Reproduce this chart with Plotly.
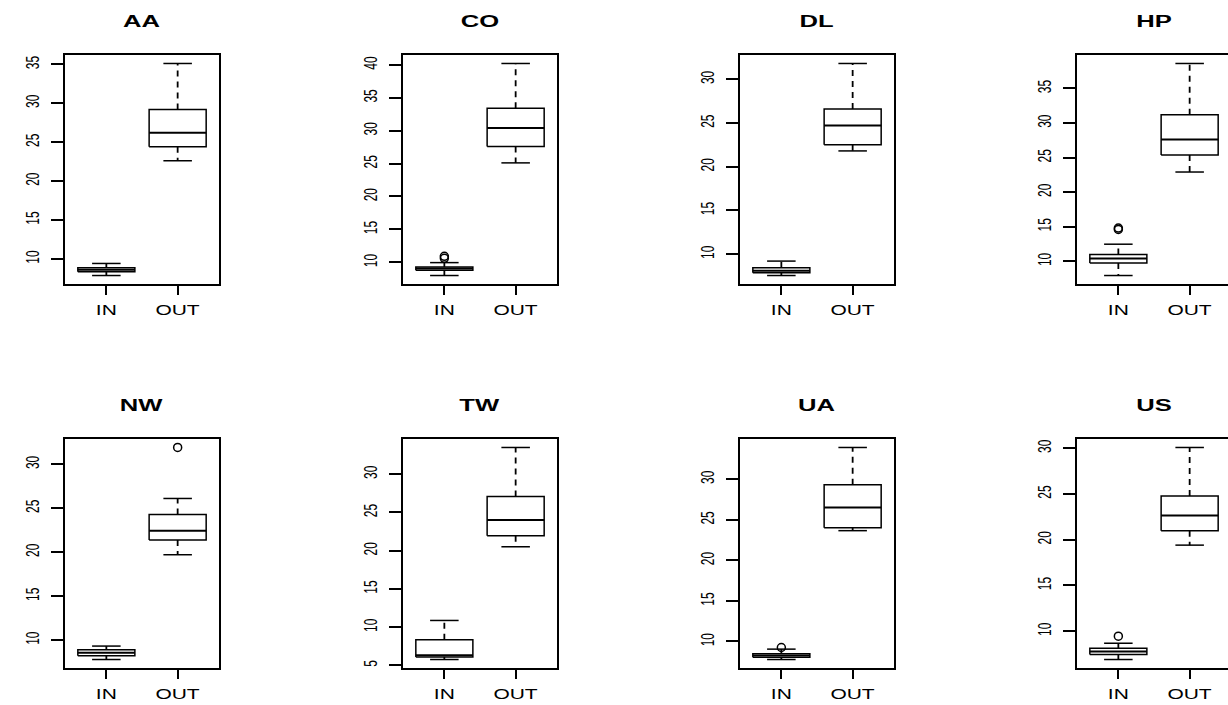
import plotly.graph_objects as go

# boxplots of IN / OUT per airline
airlines = ["AA", "CO", "DL", "HP", "NW", "TW", "UA", "US"]
groups = ["IN", "OUT"]

# lower whisker, Q1, median, Q3, upper whisker
in_lower = [7.85, 7.99, 7.55, 7.93, 7.78, 5.75, 7.77, 6.90]
in_q1 = [8.35, 8.80, 7.86, 9.75, 8.20, 6.09, 8.06, 7.45]
in_median = [8.60, 9.05, 8.10, 10.40, 8.55, 6.31, 8.25, 7.77]
in_q3 = [8.85, 9.30, 8.43, 10.97, 8.89, 8.32, 8.47, 8.14]
in_upper = [9.40, 9.95, 9.20, 12.46, 9.31, 10.86, 9.05, 8.68]
in_outliers = [[], [10.6, 10.9], [], [14.6, 14.8], [], [], [9.25], [9.45]]

out_lower = [22.6, 25.1, 21.8, 22.9, 19.7, 20.5, 23.65, 19.4]
out_q1 = [24.4, 27.6, 22.5, 25.35, 21.37, 21.95, 24.02, 20.96]
out_median = [26.2, 30.4, 24.7, 27.6, 22.44, 24.01, 26.49, 22.65]
out_q3 = [29.2, 33.4, 26.6, 31.2, 24.27, 27.07, 29.3, 24.77]
out_upper = [35.1, 40.2, 31.8, 38.6, 26.1, 33.49, 33.9, 30.07]
out_outliers = [[], [], [], [], [31.9], [], [], []]

W, H = 1228, 705
col_left = [65, 403, 740, 1077]
row_top = [55, 439]
pw, ph = 154, 229
font = "Liberation Sans, Arial, Helvetica, sans-serif"

fig = go.Figure()
layout = dict(width=W, height=H, margin=dict(l=0, r=0, t=0, b=0, autoexpand=False),
              paper_bgcolor="white", plot_bgcolor="white", showlegend=False,
              font=dict(family=font, color="black"))
annotations = []

for i, name in enumerate(airlines):
    r, c = i // 4, i % 4
    xa = "x" if i == 0 else "x%d" % (i + 1)
    ya = "y" if i == 0 else "y%d" % (i + 1)

    stats = [
        (in_lower[i], in_q1[i], in_median[i], in_q3[i], in_upper[i], in_outliers[i]),
        (out_lower[i], out_q1[i], out_median[i], out_q3[i], out_upper[i], out_outliers[i]),
    ]

    bx, by, mx, my, wx, wy, ox, oy = [], [], [], [], [], [], [], []
    for j, (lw, q1, med, q3, uw, outs) in enumerate(stats):
        p = j + 1
        bx += [p - 0.4, p + 0.4, p + 0.4, p - 0.4, p - 0.4, None,
               p - 0.2, p + 0.2, None, p - 0.2, p + 0.2, None]
        by += [q1, q1, q3, q3, q1, None, lw, lw, None, uw, uw, None]
        mx += [p - 0.4, p + 0.4, None]
        my += [med, med, None]
        wx += [p, p, None, p, p, None]
        wy += [q3, uw, None, q1, lw, None]
        ox += [p] * len(outs)
        oy += outs

    fig.add_trace(go.Scatter(x=wx, y=wy, mode="lines", xaxis=xa, yaxis=ya,
                             line=dict(color="black", width=1.8, dash="6px,5px"),
                             hoverinfo="skip"))
    fig.add_trace(go.Scatter(x=bx, y=by, mode="lines", xaxis=xa, yaxis=ya,
                             line=dict(color="black", width=1.5), hoverinfo="skip"))
    fig.add_trace(go.Scatter(x=mx, y=my, mode="lines", xaxis=xa, yaxis=ya,
                             line=dict(color="black", width=2), hoverinfo="skip"))
    if ox:
        fig.add_trace(go.Scatter(x=ox, y=oy, mode="markers", xaxis=xa, yaxis=ya,
                                 marker=dict(symbol="circle-open", size=8, color="black",
                                             line=dict(width=1.5, color="black"))))

    lo = min([in_lower[i], out_lower[i]] + in_outliers[i] + out_outliers[i])
    hi = max([in_upper[i], out_upper[i]] + in_outliers[i] + out_outliers[i])
    d = hi - lo

    x0 = col_left[c]
    x1 = min(col_left[c] + pw, W)
    xr = [0.42, 0.42 + 2.16 * (x1 - x0) / pw]
    yd = [(H - row_top[r] - ph) / H, (H - row_top[r]) / H]

    key = "" if i == 0 else str(i + 1)
    layout["xaxis" + key] = dict(
        domain=[x0 / W, x1 / W], range=xr, anchor=ya, tickvals=[1, 2], ticktext=groups,
        ticks="outside", ticklen=9, tickwidth=1.5, tickcolor="black",
        showline=True, linewidth=1.5, linecolor="black", mirror=True,
        showgrid=False, zeroline=False, fixedrange=True, automargin=False,
        tickfont=dict(family=font, size=14, color="black"), ticklabelstandoff=3)
    layout["yaxis" + key] = dict(
        domain=yd, range=[lo - 0.04 * d, hi + 0.04 * d], anchor=xa,
        tick0=0, dtick=5, tickangle=-90,
        ticks="outside", ticklen=12, tickwidth=1.5, tickcolor="black",
        showline=True, linewidth=1.5, linecolor="black", mirror=(c < 3),
        showgrid=False, zeroline=False, fixedrange=True, automargin=False,
        tickfont=dict(family=font, size=12, color="black"), ticklabelstandoff=9)

    annotations.append(dict(
        text="<b>%s</b>" % name, xref="paper", yref="paper",
        x=(x0 + pw / 2) / W, y=(H - row_top[r] + 34) / H,
        xanchor="center", yanchor="middle", showarrow=False,
        font=dict(family=font, size=16, color="black")))

layout["annotations"] = annotations
fig.update_layout(**layout)

# drop the page margin, and widen the texts about their centres
# (the reference image is stretched sideways)
stretch_js = """
document.body.style.margin = '0';
var gd = document.getElementById('{plot_id}');
function widen(sel, s) {
  gd.querySelectorAll(sel).forEach(function (t) {
    var r = t.getBoundingClientRect();
    var sv = t.ownerSVGElement.getBoundingClientRect();
    var m = t.parentNode.getCTM();
    var cx = ((r.left + r.width / 2 - sv.left) - m.e) / m.a;
    var old = t.getAttribute('transform') || '';
    t.setAttribute('transform', 'translate(' + cx + ',0) scale(' + s + ',1) translate(' + (-cx) + ',0) ' + old);
  });
}
widen('g.xaxislayer-above text', 1.5);
widen('g.yaxislayer-above text', 1.5);
widen('.annotation-text', 1.6);
"""
fig.write_html("out.html", post_script=stretch_js, config={"displayModeBar": False})
